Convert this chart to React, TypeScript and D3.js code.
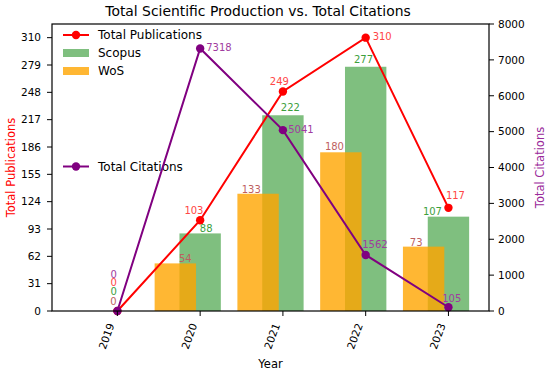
import React from "react";
import * as d3 from "d3";

const years = ["2019", "2020", "2021", "2022", "2023"];
const scopus = [0, 88, 222, 277, 107];
const wos = [0, 54, 133, 180, 73];
const totalPubs = [0, 103, 249, 310, 117];
const citations = [0, 7318, 5041, 1562, 105];
const leftTicks = [0, 31, 62, 93, 124, 155, 186, 217, 248, 279, 310];
const rightTicks = [0, 1000, 2000, 3000, 4000, 5000, 6000, 7000, 8000];

// label nudges (pixels) – the reference's labels were spread to avoid overlaps
const scopusLabelOffset = [[-3.8, -16], [6, -1], [7.5, -4], [-2.2, -3.3], [-16, -2]];
const wosLabelOffset = [[21, -6], [10, -1.2], [-6.8, -0.7], [-6.4, -2], [-7.4, -0.8]];
const pubsLabelOffset = [[-3.8, -24.6], [-6.2, -6.4], [-3.5, -6], [16.5, 2.4], [7, -8.7]];
const citLabelOffset = [[-3.8, -33.2], [18.8, 2.2], [18, 2.5], [9.3, -6.7], [3.3, -5.5]];

const W = 550, H = 372;
const L = 52, R = 489, T = 24, B = 311;
const FONT = "DejaVu Sans, sans-serif";

export default function App() {
  const x = d3.scaleLinear().domain([-0.79, 4.49]).range([L, R]);
  const yL = d3.scaleLinear().domain([0, 325.5]).range([B, T]);
  const yR = d3.scaleLinear().domain([0, 8000]).range([B, T]);
  const bw = x(0.5) - x(0);
  const wosShift = -0.3;
  const idx = years.map((_, i) => i);

  const pubLine = d3.line<number>().x((i) => x(i)).y((i) => yL(totalPubs[i]));
  const citLine = d3.line<number>().x((i) => x(i)).y((i) => yR(citations[i]));

  return (
    <svg width={W} height={H} style={{ position: "absolute", left: 0, top: 0, background: "#fff" }} fontFamily={FONT}>
      <rect x={0} y={0} width={W} height={H} fill="#fff" />
      {/* title */}
      <text x={258} y={16} textAnchor="middle" fontSize={13.9} fill="#000">
        Total Scientific Production vs. Total Citations
      </text>

      {/* legends (under the lines) */}
      <g fontSize={12} fill="#000">
        <line x1={63} x2={89} y1={35} y2={35} stroke="red" strokeWidth={2} />
        <circle cx={76} cy={35} r={4.2} fill="red" />
        <text x={98} y={39.2}>Total Publications</text>
        <rect x={63} y={49} width={26} height={8} fill="green" fillOpacity={0.5} />
        <text x={98} y={57}>Scopus</text>
        <rect x={63} y={67} width={26} height={8} fill="orange" fillOpacity={0.8} />
        <text x={98} y={75}>WoS</text>
        <line x1={63} x2={89} y1={166.5} y2={166.5} stroke="purple" strokeWidth={2} />
        <circle cx={76} cy={166.5} r={4.2} fill="purple" />
        <text x={98} y={170.7}>Total Citations</text>
      </g>

      {/* bars */}
      {idx.map((i) => (
        <rect key={"s" + i} x={x(i) - bw / 2} y={yL(scopus[i])} width={bw}
          height={B - yL(scopus[i])} fill="green" fillOpacity={0.5} />
      ))}
      {idx.map((i) => (
        <rect key={"w" + i} x={x(i + wosShift) - bw / 2} y={yL(wos[i])} width={bw}
          height={B - yL(wos[i])} fill="orange" fillOpacity={0.8} />
      ))}

      {/* total publications line */}
      <path d={pubLine(idx) || ""} fill="none" stroke="red" strokeWidth={2} />
      {idx.map((i) => (
        <circle key={"pc" + i} cx={x(i)} cy={yL(totalPubs[i])} r={4.2} fill="red" />
      ))}
      {/* citations line */}
      <path d={citLine(idx) || ""} fill="none" stroke="purple" strokeWidth={2} />
      {idx.map((i) => (
        <circle key={"cc" + i} cx={x(i)} cy={yR(citations[i])} r={4.2} fill="purple" />
      ))}

      {/* value labels */}
      <g fontSize={10} textAnchor="middle">
        {idx.map((i) => (
          <text key={"sl" + i} x={x(i) + scopusLabelOffset[i][0]} y={yL(scopus[i]) + scopusLabelOffset[i][1]}
            fill="rgb(60,160,60)">{scopus[i]}</text>
        ))}
        {idx.map((i) => (
          <text key={"wl" + i} x={x(i + wosShift) + wosLabelOffset[i][0]} y={yL(wos[i]) + wosLabelOffset[i][1]}
            fill="rgb(190,95,95)">{wos[i]}</text>
        ))}
        {idx.map((i) => (
          <text key={"pl" + i} x={x(i) + pubsLabelOffset[i][0]} y={yL(totalPubs[i]) + pubsLabelOffset[i][1]}
            fill="rgb(255,70,70)">{totalPubs[i]}</text>
        ))}
        {idx.map((i) => (
          <text key={"cl" + i} x={x(i) + citLabelOffset[i][0]} y={yR(citations[i]) + citLabelOffset[i][1]}
            fill="rgb(160,60,160)">{citations[i]}</text>
        ))}
      </g>

      {/* spines */}
      <rect x={L} y={T} width={R - L} height={B - T} fill="none" stroke="#000" strokeWidth={1.2} />

      {/* axes */}
      <g fontSize={10.5} fill="#000">
        {leftTicks.map((t) => (
          <g key={"lt" + t}>
            <line x1={L - 5} x2={L} y1={yL(t)} y2={yL(t)} stroke="#000" strokeWidth={1} />
            <text x={L - 11} y={yL(t) + 3.8} textAnchor="end">{t}</text>
          </g>
        ))}
        {rightTicks.map((t) => (
          <g key={"rt" + t}>
            <line x1={R} x2={R + 5} y1={yR(t)} y2={yR(t)} stroke="#000" strokeWidth={1} />
            <text x={R + 9} y={yR(t) + 3.8} textAnchor="start">{t}</text>
          </g>
        ))}
        {years.map((yr, i) => (
          <g key={"xt" + yr}>
            <line x1={x(i)} x2={x(i)} y1={B} y2={B + 5} stroke="#000" strokeWidth={1} />
            <text transform={`translate(${x(i) - 6.5},${B + 12.5}) rotate(-70)`} textAnchor="end"
              dominantBaseline="central">{yr}</text>
          </g>
        ))}
      </g>

      {/* axis labels */}
      <text x={(L + R) / 2} y={368} textAnchor="middle" fontSize={11.5} fill="#000">Year</text>
      <text transform={`translate(15,${(T + B) / 2}) rotate(-90)`} textAnchor="middle" fontSize={11.5} fill="red">
        Total Publications
      </text>
      <text transform={`translate(544,${(T + B) / 2}) rotate(-90)`} textAnchor="middle" fontSize={11.5} fill="#9a2a9a">
        Total Citations
      </text>
    </svg>
  );
}
